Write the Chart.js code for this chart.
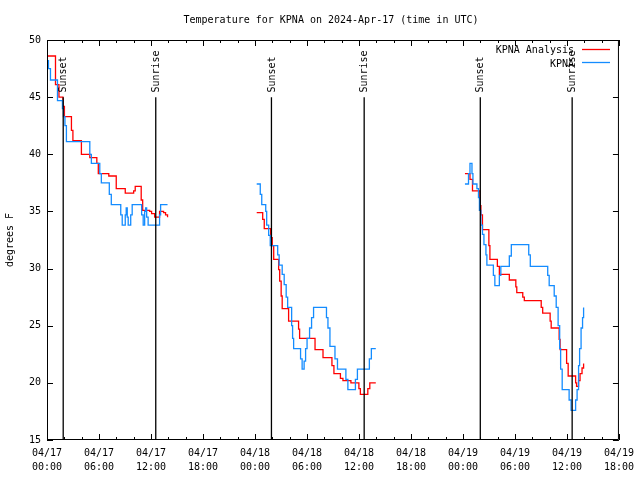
<!DOCTYPE html>
<html>
<head>
<meta charset="utf-8">
<title>Temperature for KPNA</title>
<script src="https://cdn.jsdelivr.net/npm/chart.js@4"></script>
<style>
  html, body { margin: 0; padding: 0; background: #fff; }
  canvas { display: block; }
</style>
</head>
<body>
<canvas id="tempChart" width="640" height="480"></canvas>
<script>
// hours since 04/17 00:00 UTC, values in deg F
const anaHr17 = [0, 0.98, 1.38, 1.84, 2.01, 2.82, 2.99, 3.97, 4.94, 5.75, 5.92, 7.13, 7.99, 9.03, 10.0, 10.18, 10.87, 11.04, 11.84, 12.07, 12.42, 12.99, 13.45, 13.68, 13.91];
const anaF17 = [48.6, 46.1, 45.0, 44.2, 43.3, 42.1, 41.2, 40.0, 39.7, 39.2, 38.3, 38.1, 37.0, 36.6, 36.8, 37.2, 36.0, 35.1, 35.0, 34.8, 34.5, 35.0, 34.9, 34.7, 34.5];
const obsHr17 = [0, 0.17, 0.40, 1.21, 1.78, 1.90, 2.07, 2.24, 4.94, 5.12, 6.09, 6.27, 7.19, 7.42, 8.51, 8.68, 9.03, 9.14, 9.26, 9.37, 9.66, 9.83, 10.92, 11.10, 11.27, 11.38, 11.50, 11.67, 12.99, 13.11, 13.91];
const obsF17 = [48.2, 47.5, 46.5, 44.7, 44.0, 43.3, 42.5, 41.1, 40.0, 39.2, 38.3, 37.5, 36.5, 35.6, 34.7, 33.8, 34.7, 35.3, 34.5, 33.8, 34.7, 35.6, 34.7, 33.8, 35.0, 35.3, 34.5, 33.8, 34.7, 35.6, 35.6];

const anaHr18 = [24.20, 24.89, 25.07, 25.81, 25.99, 26.16, 26.73, 26.85, 27.02, 27.14, 27.88, 29.03, 29.15, 30.93, 31.85, 32.88, 33.11, 33.86, 34.15, 35.07, 35.99, 36.16, 37.02, 37.25, 37.94];
const anaF18 = [34.9, 34.3, 33.5, 32.7, 32.0, 30.8, 29.9, 28.9, 27.6, 26.5, 25.4, 24.7, 23.9, 22.9, 22.2, 21.5, 20.8, 20.4, 20.2, 20.0, 19.5, 19.0, 19.5, 20.0, 20.0];
const obsHr18 = [24.20, 24.61, 24.78, 25.24, 25.35, 25.58, 25.76, 26.62, 26.79, 27.14, 27.37, 27.60, 27.77, 28.23, 28.34, 28.46, 29.26, 29.44, 29.67, 29.84, 30.01, 30.30, 30.53, 30.76, 32.25, 32.42, 32.65, 33.23, 33.52, 34.49, 34.72, 35.59, 35.82, 37.20, 37.43, 37.94];
const obsF18 = [37.4, 36.5, 35.6, 35.0, 33.8, 32.9, 32.0, 31.2, 30.3, 29.5, 28.6, 27.5, 26.6, 25.0, 23.9, 23.0, 22.1, 21.2, 21.9, 23.0, 23.9, 24.8, 25.7, 26.6, 25.7, 24.8, 23.2, 22.1, 21.2, 20.3, 19.4, 20.3, 21.2, 22.1, 23.0, 23.0];

const anaHr19 = [48.23, 48.81, 49.10, 49.96, 50.07, 50.25, 50.99, 51.11, 51.97, 52.20, 53.35, 54.10, 54.21, 54.90, 55.08, 57.03, 57.20, 58.06, 58.18, 59.10, 59.21, 59.96, 60.14, 61.00, 61.11, 61.34, 61.51, 61.74, 61.92];
const anaF19 = [38.3, 37.8, 36.8, 35.5, 34.7, 33.4, 32.0, 30.8, 30.2, 29.5, 29.0, 28.4, 27.9, 27.5, 27.2, 26.6, 26.1, 25.4, 24.8, 23.8, 22.9, 21.7, 20.6, 20.0, 19.7, 20.2, 20.8, 21.3, 21.7];
const obsHr19 = [48.23, 48.64, 48.81, 49.04, 49.15, 49.61, 49.79, 49.90, 50.07, 50.25, 50.42, 50.65, 50.76, 51.51, 51.68, 52.20, 52.37, 53.35, 53.58, 55.59, 55.77, 57.78, 57.95, 58.53, 58.76, 58.98, 59.16, 59.27, 59.45, 60.25, 60.48, 61.00, 61.17, 61.34, 61.46, 61.63, 61.80, 61.92];
const obsF19 = [37.4, 38.3, 39.2, 38.3, 37.4, 37.0, 36.2, 35.1, 33.8, 33.0, 32.1, 31.2, 30.3, 29.4, 28.5, 29.4, 30.2, 31.1, 32.1, 31.2, 30.2, 29.4, 28.5, 27.6, 26.6, 25.0, 23.0, 21.2, 19.4, 18.5, 17.6, 18.5, 19.4, 21.5, 23.0, 24.8, 25.7, 26.6];

// sunset / sunrise markers
const sunHours = [1.87, 12.55, 25.9, 36.6, 50.0, 60.6];
const sunLabels = ['Sunset', 'Sunrise', 'Sunset', 'Sunrise', 'Sunset', 'Sunrise'];

// x tick labels (every 6 h)
const tickHours = [0, 6, 12, 18, 24, 30, 36, 42, 48, 54, 60, 66];
const tickDates = ['04/17', '04/17', '04/17', '04/17', '04/18', '04/18', '04/18', '04/18', '04/19', '04/19', '04/19', '04/19'];
const tickTimes = ['00:00', '06:00', '12:00', '18:00', '00:00', '06:00', '12:00', '18:00', '00:00', '06:00', '12:00', '18:00'];

const RED = '#ff0000';
const BLUE = '#148cff';
const FONT = 'DejaVu Sans Mono';
const font = { family: FONT, size: 10 };

function pts(hrs, vals) {
    return hrs.map((h, i) => ({ x: h, y: vals[i] }));
}

// value holds until the next point (horizontal first, then vertical)
function stepLine(hrs, vals, color) {
    return {
        data: pts(hrs, vals),
        borderColor: color,
        borderWidth: 1.3,
        stepped: 'before',
        pointRadius: 0,
        fill: false
    };
}

// vertical sun lines from 15 up to 45 F
const sunData = sunHours.flatMap(h => [{ x: h, y: 15 }, { x: h, y: 45 }, { x: h, y: null }]);

// frame, inward tick marks, title, sun labels and key (gnuplot look)
const gnuDecor = {
    id: 'gnuDecor',
    afterDraw(chart) {
        const c = chart.ctx;
        const a = chart.chartArea;
        const xs = chart.scales.x, ys = chart.scales.y;
        c.save();
        c.strokeStyle = '#000';
        c.lineWidth = 1;
        c.beginPath();
        c.rect(a.left + 0.5, a.top + 0.5, a.right - a.left - 1, a.bottom - a.top - 1);
        // x ticks every 2 h, longer every 6 h
        for (let h = 0; h <= 66; h += 2) {
            const px = Math.round(xs.getPixelForValue(h)) + 0.5;
            const len = h % 6 === 0 ? 6 : 3;
            c.moveTo(px, a.bottom); c.lineTo(px, a.bottom - len);
            c.moveTo(px, a.top); c.lineTo(px, a.top + len);
        }
        for (let v = 15; v <= 50; v += 5) {
            const py = Math.round(ys.getPixelForValue(v)) + 0.5;
            c.moveTo(a.left, py); c.lineTo(a.left + 6, py);
            c.moveTo(a.right, py); c.lineTo(a.right - 6, py);
        }
        c.stroke();

        c.fillStyle = '#000';
        c.font = '10px "' + FONT + '"';
        c.textBaseline = 'middle';

        c.textAlign = 'center';
        c.fillText('Temperature for KPNA on 2024-Apr-17 (time in UTC)', 331, 20);

        // rotated sunset / sunrise labels
        sunHours.forEach((h, i) => {
            c.save();
            c.translate(xs.getPixelForValue(h) + 0.5, ys.getPixelForValue(45.4));
            c.rotate(-Math.PI / 2);
            c.textAlign = 'left';
            c.fillText(sunLabels[i], 0, 0);
            c.restore();
        });

        // key
        c.textAlign = 'right';
        c.fillText('KPNA Analysis', 574, 50.5);
        c.fillText('KPNA', 574, 64);
        c.lineWidth = 1.3;
        c.strokeStyle = RED;
        c.beginPath(); c.moveTo(582, 49.5); c.lineTo(610, 49.5); c.stroke();
        c.strokeStyle = BLUE;
        c.beginPath(); c.moveTo(582, 62.5); c.lineTo(610, 62.5); c.stroke();
        c.restore();
    }
};

const ctx = document.getElementById('tempChart').getContext('2d');
new Chart(ctx, {
    type: 'line',
    data: {
        datasets: [
            { data: sunData, borderColor: '#000', borderWidth: 1.3, pointRadius: 0, spanGaps: false },
            stepLine(obsHr17, obsF17, BLUE),
            stepLine(obsHr18, obsF18, BLUE),
            stepLine(obsHr19, obsF19, BLUE),
            stepLine(anaHr17, anaF17, RED),
            stepLine(anaHr18, anaF18, RED),
            stepLine(anaHr19, anaF19, RED)
        ]
    },
    options: {
        responsive: false,
        animation: false,
        devicePixelRatio: 1,
        layout: { padding: { top: 40, right: 19, left: 0, bottom: 0 } },
        plugins: {
            legend: { display: false },
            title: { display: false },
            tooltip: { enabled: false }
        },
        scales: {
            x: {
                type: 'linear',
                min: 0,
                max: 66,
                grid: { display: false, drawTicks: false },
                border: { display: false },
                afterFit: s => { s.height = 40; },
                afterBuildTicks: s => { s.ticks = tickHours.map(v => ({ value: v })); },
                ticks: {
                    autoSkip: false,
                    maxRotation: 0,
                    padding: 6,
                    color: '#000',
                    font: { family: FONT, size: 10, lineHeight: 1.4 },
                    callback: v => {
                        const i = tickHours.indexOf(v);
                        return [tickDates[i], tickTimes[i]];
                    }
                }
            },
            y: {
                min: 15,
                max: 50,
                grid: { display: false, drawTicks: false },
                border: { display: false },
                afterFit: s => { s.width = 47; },
                ticks: { stepSize: 5, padding: 6, color: '#000', font: font },
                title: { display: true, text: 'degrees F', color: '#000', font: font, padding: { top: 4, bottom: 4 } }
            }
        }
    },
    plugins: [gnuDecor]
});
</script>
</body>
</html>
